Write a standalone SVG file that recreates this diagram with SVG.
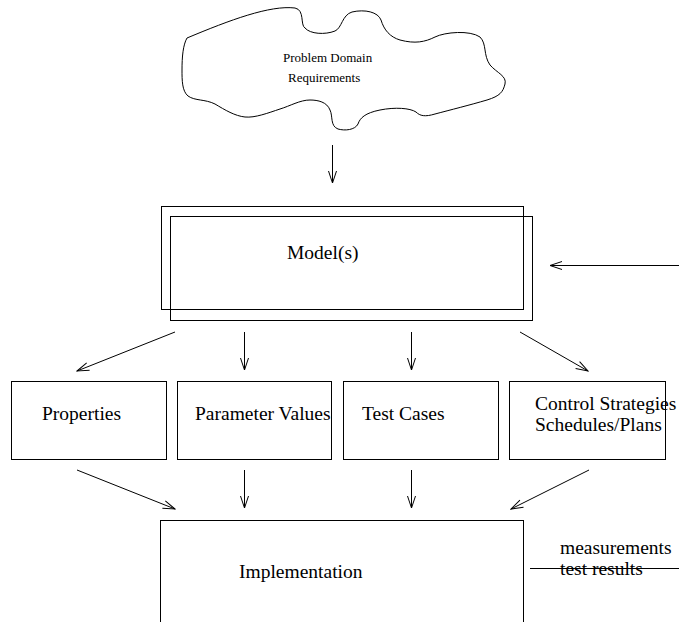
<svg xmlns="http://www.w3.org/2000/svg" width="679" height="622" viewBox="0 0 679 622">
<style>
.box{fill:none;stroke:#000;stroke-width:1}
.ln{fill:none;stroke:#000;stroke-width:1;marker-end:url(#ah)}
text{font-family:"Liberation Serif","Times New Roman",serif;font-size:19.5px;fill:#000}
.sm{font-size:13px}
</style>
<defs>
<marker id="ah" markerUnits="userSpaceOnUse" markerWidth="14" markerHeight="10" viewBox="-13 -5 14 10" refX="0" refY="0" orient="auto">
<path d="M-12,-4 L0,0 L-12,4" fill="none" stroke="#000" stroke-width="1"/>
</marker>
</defs>
<rect width="679" height="622" fill="#fff"/>
<g id="cloud">
<path class="box" d="M187,38 C230,20 270,5 295,8 C305,10 300,25 305,28 C310,34 325,35 335,31 C342,28 342,15 352,12 C365,9 378,12 381,20 C384,30 390,37 400,40 C415,44 425,42 435,37 C445,32 470,30 480,37 C487,44 483,55 490,65 C497,73 507,76 505,84 C503,92 500,96 487,100 C470,105 450,110 435,114 C425,117 420,116 416,112 C410,108 395,107 380,110 C365,113 360,118 358,124 C355,130 345,131 338,129 C330,126 333,116 330,110 C327,102 318,100 310,100 C300,100 290,106 280,109 C268,113 255,118 245,117 C235,116 225,110 215,104 C205,99 195,101 188,96 C182,91 182,80 182,70 C182,57 183,45 187,38 Z"/>
<text class="sm" x="283" y="62">Problem Domain</text>
<text class="sm" x="288" y="82">Requirements</text>
</g>
<g id="models">
<rect class="box" x="161.5" y="206.5" width="362" height="103"/>
<rect class="box" x="170.5" y="216.5" width="362" height="104"/>
<text x="287" y="259">Model(s)</text>
</g>
<g id="properties">
<rect class="box" x="11.5" y="381.5" width="155" height="78"/>
<text x="42" y="420">Properties</text>
</g>
<g id="parameters">
<rect class="box" x="177.5" y="381.5" width="154" height="78"/>
<text x="195" y="420">Parameter Values</text>
</g>
<g id="testcases">
<rect class="box" x="343.5" y="381.5" width="155" height="78"/>
<text x="362" y="420">Test Cases</text>
</g>
<g id="control">
<rect class="box" x="509.5" y="381.5" width="156" height="78"/>
<text x="535" y="410">Control Strategies</text>
<text x="535" y="431">Schedules/Plans</text>
</g>
<g id="implementation">
<rect class="box" x="160.5" y="520.5" width="363" height="120"/>
<text x="239" y="578">Implementation</text>
</g>
<g id="feedback-label">
<text x="560" y="554">measurements</text>
<text x="560" y="575">test results</text>
</g>
<g id="connectors">
<line class="ln" x1="332.5" y1="145" x2="332.5" y2="183"/>
<line class="ln" x1="679" y1="265.5" x2="550" y2="265.5"/>
<line class="ln" x1="175" y1="332" x2="77" y2="371"/>
<line class="ln" x1="244.5" y1="332" x2="244.5" y2="370"/>
<line class="ln" x1="411.5" y1="332" x2="411.5" y2="370"/>
<line class="ln" x1="520" y1="332" x2="588" y2="371"/>
<line class="ln" x1="77" y1="470" x2="175" y2="509"/>
<line class="ln" x1="244.5" y1="470" x2="244.5" y2="508"/>
<line class="ln" x1="411.5" y1="470" x2="411.5" y2="508"/>
<line class="ln" x1="589" y1="470" x2="511" y2="509"/>
<line fill="none" stroke="#000" stroke-width="1" x1="530" y1="568.5" x2="679" y2="568.5"/>
</g>
</svg>
